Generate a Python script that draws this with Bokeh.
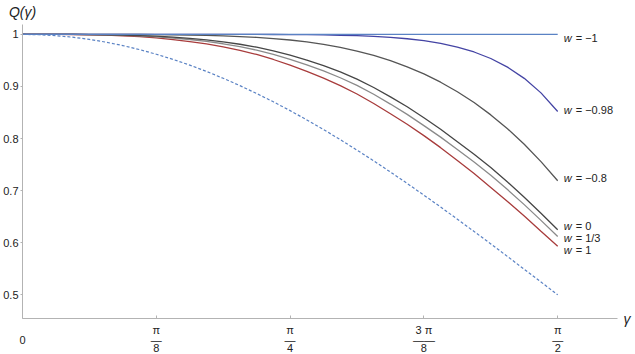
from bokeh.plotting import figure
from bokeh.models import FixedTicker, ColumnDataSource, Range1d, LinearAxis
from bokeh.core.properties import value
from bokeh.embed import file_html
from bokeh.resources import INLINE

# ---------------- data ----------------
gamma = [0.0, 0.0491, 0.0982, 0.1473, 0.1963, 0.2454, 0.2945, 0.3436, 0.3927, 0.4418,
         0.4909, 0.5400, 0.5890, 0.6381, 0.6872, 0.7363, 0.7854, 0.8345, 0.8836, 0.9327,
         0.9817, 1.0308, 1.0799, 1.1290, 1.1781, 1.2272, 1.2763, 1.3254, 1.3744, 1.4235,
         1.4726, 1.5217, 1.5708]

q_w_m1 = [1.0, 1.0, 1.0, 1.0, 1.0, 1.0, 1.0, 1.0, 1.0, 1.0,
          1.0, 1.0, 1.0, 1.0, 1.0, 1.0, 1.0, 1.0, 1.0, 1.0,
          1.0, 1.0, 1.0, 1.0, 1.0, 1.0, 1.0, 1.0, 1.0, 1.0,
          1.0, 1.0, 1.0]
q_w_m098 = [1.0, 1.0, 1.0, 1.0, 1.0, 1.0, 1.0, 1.0, 1.0, 1.0,
            1.0, 1.0, 1.0, 1.0, 0.9999, 0.9998, 0.9996, 0.9994, 0.9990, 0.9984,
            0.9975, 0.9962, 0.9943, 0.9916, 0.9879, 0.9827, 0.9757, 0.9662, 0.9537, 0.9371,
            0.9156, 0.8877, 0.8520]
q_w_m08 = [1.0, 1.0, 1.0, 1.0, 1.0, 1.0, 0.9999, 0.9998, 0.9996, 0.9993,
           0.9988, 0.9981, 0.9972, 0.9959, 0.9942, 0.9920, 0.9892, 0.9855, 0.9808, 0.9750,
           0.9680, 0.9596, 0.9496, 0.9378, 0.9241, 0.9082, 0.8899, 0.8691, 0.8454, 0.8188,
           0.7889, 0.7557, 0.7190]
q_w_0 = [1.0, 1.0, 1.0, 0.9999, 0.9997, 0.9993, 0.9987, 0.9978, 0.9965, 0.9947,
         0.9924, 0.9894, 0.9857, 0.9811, 0.9754, 0.9684, 0.9600, 0.9507, 0.9400, 0.9279,
         0.9140, 0.8980, 0.8800, 0.8610, 0.8400, 0.8180, 0.7940, 0.7700, 0.7445, 0.7165,
         0.6872, 0.6565, 0.6250]
q_w_13 = [1.0, 1.0, 1.0, 0.9999, 0.9996, 0.9990, 0.9982, 0.9971, 0.9954, 0.9931,
          0.9902, 0.9865, 0.9820, 0.9765, 0.9697, 0.9616, 0.9520, 0.9416, 0.9298, 0.9167,
          0.9020, 0.8850, 0.8662, 0.8464, 0.8248, 0.8027, 0.7790, 0.7550, 0.7297, 0.7020,
          0.6731, 0.6428, 0.6120]
q_w_1 = [1.0, 1.0, 0.9999, 0.9998, 0.9993, 0.9985, 0.9973, 0.9956, 0.9932, 0.9901,
         0.9863, 0.9816, 0.9760, 0.9694, 0.9614, 0.9518, 0.9408, 0.9290, 0.9160, 0.9016,
         0.8856, 0.8674, 0.8476, 0.8274, 0.8056, 0.7825, 0.7579, 0.7327, 0.7062, 0.6791,
         0.6512, 0.6221, 0.5931]
q_dashed = [1.0, 0.9994, 0.9976, 0.9946, 0.9904, 0.9850, 0.9785, 0.9708, 0.9619, 0.9520,
            0.9410, 0.9289, 0.9157, 0.9016, 0.8865, 0.8705, 0.8536, 0.8358, 0.8172, 0.7979,
            0.7778, 0.7571, 0.7357, 0.7138, 0.6913, 0.6685, 0.6451, 0.6215, 0.5976, 0.5734,
            0.5490, 0.5245, 0.5000]

curve_labels = ["= \u22121", "= \u22120.98", "= \u22120.8", "= 0", "= 1/3", "= 1"]

x_ticks = [0.0, 0.3927, 0.7854, 1.1781, 1.5708]
x_numerators = ["", "\u03c0", "\u03c0", "3 \u03c0", "\u03c0"]
x_middles = ["0", "\u2014", "\u2014", "\u2014\u2014", "\u2014"]
x_denominators = ["", "8", "4", "8", "2"]
y_ticks = [0.5, 0.6, 0.7, 0.8, 0.9, 1.0]
y_tick_labels = ["0.5", "0.6", "0.7", "0.8", "0.9", "1"]
x_title = "\u03b3"
y_title = "Q(\u03b3)"

# ---------------- styles ----------------
FONT = "Liberation Sans"
AXIS_C = "#b3b3b3"
TXT_C = "#222222"
X_MAX = 1.7463
Y_MIN, Y_MAX = 0.4544, 1.019

curves = [q_w_m1, q_w_m098, q_w_m08, q_w_0, q_w_13, q_w_1]
colors = ["#5a82c4", "#4444a4", "#555555", "#464646", "#8a8a8a", "#a83c3c"]
label_dy = [4, -1, -3, -4, 2, 4]

p = figure(width=635, height=354, x_range=Range1d(0, X_MAX), y_range=Range1d(Y_MIN, Y_MAX),
           output_backend="svg", toolbar_location=None,
           min_border_left=20, min_border_right=18, min_border_top=22, min_border_bottom=35)
p.outline_line_color = None
p.xgrid.grid_line_color = None
p.ygrid.grid_line_color = None
p.background_fill_color = "white"
p.border_fill_color = "white"


def plain_axis(ax, size="11px", standoff=0, italic=False):
    ax.axis_line_color = None
    ax.major_tick_line_color = None
    ax.minor_tick_line_color = None
    ax.major_tick_in = 0
    ax.major_tick_out = 0
    ax.major_label_standoff = standoff
    ax.major_label_text_font = FONT
    ax.major_label_text_font_size = size
    ax.major_label_text_color = TXT_C
    if italic:
        ax.major_label_text_font_style = "italic"


# x axis (line, ticks, numerators)
xa = p.xaxis[0]
xa.ticker = FixedTicker(ticks=x_ticks)
xa.major_label_overrides = {t: s for t, s in zip(x_ticks, x_numerators)}
xa.axis_line_color = AXIS_C
xa.major_tick_line_color = AXIS_C
xa.major_tick_in = 3
xa.major_tick_out = 0
xa.minor_tick_line_color = None
xa.major_label_standoff = 5
xa.major_label_text_font = FONT
xa.major_label_text_font_size = "11px"
xa.major_label_text_color = TXT_C

# fraction bars (and the zero) and denominators
mid_axis = LinearAxis(ticker=FixedTicker(ticks=x_ticks),
                      major_label_overrides={t: s for t, s in zip(x_ticks, x_middles)})
plain_axis(mid_axis, standoff=-5)
p.add_layout(mid_axis, "below")
den_axis = LinearAxis(ticker=FixedTicker(ticks=x_ticks),
                      major_label_overrides={t: s for t, s in zip(x_ticks, x_denominators)})
plain_axis(den_axis, standoff=-5)
p.add_layout(den_axis, "below")

# y axis
ya = p.yaxis[0]
ya.ticker = FixedTicker(ticks=y_ticks)
ya.major_label_overrides = {t: s for t, s in zip(y_ticks, y_tick_labels)}
ya.axis_line_color = AXIS_C
ya.major_tick_line_color = AXIS_C
ya.major_tick_in = 0
ya.major_tick_out = 2
ya.minor_tick_line_color = None
ya.major_label_standoff = 2
ya.major_label_text_font = FONT
ya.major_label_text_font_size = "11px"
ya.major_label_text_color = TXT_C

# axis titles placed like Mathematica: at the ends of the axes
gx = LinearAxis(ticker=FixedTicker(ticks=[Y_MIN]), major_label_overrides={Y_MIN: x_title})
plain_axis(gx, size="14px", standoff=6, italic=True)
p.add_layout(gx, "right")
gy = LinearAxis(ticker=FixedTicker(ticks=[0.0]), major_label_overrides={0.0: y_title})
plain_axis(gy, size="14px", standoff=5, italic=True)
p.add_layout(gy, "above")

# curves
p.line(gamma, q_dashed, line_color="#5a82c4", line_width=1.2, line_dash="3 2")
for q, c in reversed(list(zip(curves, colors))):
    p.line(gamma, q, line_color=c, line_width=1.3)

# curve labels
src = ColumnDataSource(dict(
    x=[gamma[-1]] * len(curves),
    y=[q[-1] for q in curves],
    w=["w"] * len(curves),
    t=curve_labels,
    dy=label_dy,
))
p.text(x="x", y="y", text="w", source=src, x_offset=6, y_offset="dy",
       text_font=value(FONT), text_font_style="italic", text_font_size="11px",
       text_baseline="middle", text_align="left", text_color=TXT_C)
p.text(x="x", y="y", text="t", source=src, x_offset=18, y_offset="dy",
       text_font=value(FONT), text_font_size="11px",
       text_baseline="middle", text_align="left", text_color=TXT_C)

open("out.html", "w").write(file_html(p, INLINE))
